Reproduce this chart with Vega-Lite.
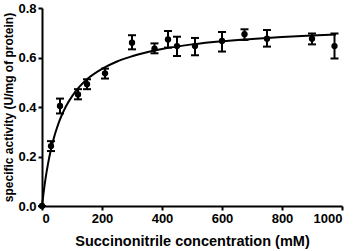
{
  "$schema": "https://vega.github.io/schema/vega-lite/v6.json",
  "autosize": "none",
  "width": 300,
  "height": 198,
  "padding": {"left": 42, "top": 8, "right": 16, "bottom": 45},
  "background": "white",
  "config": {
    "view": {"stroke": null},
    "axis": {
      "grid": false,
      "domainColor": "black",
      "domainWidth": 2,
      "tickColor": "black",
      "tickWidth": 2,
      "tickSize": 4,
      "labelFont": "Liberation Sans",
      "labelFontWeight": "bold",
      "labelColor": "black",
      "titleFont": "Liberation Sans",
      "titleFontWeight": "bold",
      "titleColor": "black"
    }
  },
  "datasets": {
    "obs": [
      {"conc": 0, "act": 0, "lo": 0, "hi": 0},
      {"conc": 30, "act": 0.242, "lo": 0.222, "hi": 0.262},
      {"conc": 60, "act": 0.404, "lo": 0.374, "hi": 0.434},
      {"conc": 120, "act": 0.451, "lo": 0.431, "hi": 0.472},
      {"conc": 150, "act": 0.492, "lo": 0.472, "hi": 0.512},
      {"conc": 210, "act": 0.536, "lo": 0.515, "hi": 0.555},
      {"conc": 300, "act": 0.66, "lo": 0.633, "hi": 0.69},
      {"conc": 375, "act": 0.636, "lo": 0.617, "hi": 0.657},
      {"conc": 420, "act": 0.673, "lo": 0.64, "hi": 0.707},
      {"conc": 450, "act": 0.646, "lo": 0.606, "hi": 0.684},
      {"conc": 510, "act": 0.646, "lo": 0.609, "hi": 0.679},
      {"conc": 600, "act": 0.667, "lo": 0.624, "hi": 0.703},
      {"conc": 675, "act": 0.694, "lo": 0.671, "hi": 0.714},
      {"conc": 750, "act": 0.676, "lo": 0.644, "hi": 0.711},
      {"conc": 900, "act": 0.676, "lo": 0.653, "hi": 0.697},
      {"conc": 975, "act": 0.646, "lo": 0.596, "hi": 0.697}
    ],
    "fit": [
      {"conc": 0, "act": 0},
      {"conc": 5, "act": 0.051},
      {"conc": 10, "act": 0.096},
      {"conc": 20, "act": 0.17},
      {"conc": 30, "act": 0.229},
      {"conc": 40, "act": 0.277},
      {"conc": 50, "act": 0.316},
      {"conc": 60, "act": 0.35},
      {"conc": 80, "act": 0.403},
      {"conc": 100, "act": 0.443},
      {"conc": 125, "act": 0.482},
      {"conc": 150, "act": 0.512},
      {"conc": 200, "act": 0.554},
      {"conc": 250, "act": 0.584},
      {"conc": 300, "act": 0.605},
      {"conc": 400, "act": 0.634},
      {"conc": 500, "act": 0.653},
      {"conc": 600, "act": 0.666},
      {"conc": 700, "act": 0.675},
      {"conc": 800, "act": 0.683},
      {"conc": 900, "act": 0.689},
      {"conc": 980, "act": 0.693}
    ]
  },
  "layer": [
    {
      "data": {"name": "fit"},
      "mark": {"type": "line", "color": "black", "strokeWidth": 2, "interpolate": "monotone"},
      "encoding": {
        "x": {
          "field": "conc", "type": "quantitative",
          "scale": {"domain": [0, 1000], "nice": false},
          "axis": {
            "title": "Succinonitrile concentration (mM)",
            "values": [0, 100, 200, 300, 400, 500, 600, 700, 800, 900, 1000],
            "format": "d",
            "labelExpr": "datum.value % 200 == 0 ? datum.label : ''",
            "labelFontSize": 13,
            "titleFontSize": 14.5,
            "labelPadding": 2,
            "titlePadding": 9,
            "titleColor": "black"
          }
        },
        "y": {
          "field": "act", "type": "quantitative",
          "scale": {"domain": [0, 0.8], "nice": false},
          "axis": {
            "title": "specific activity (U/mg of protein)",
            "values": [0, 0.2, 0.4, 0.6, 0.8],
            "format": ".1f",
            "labelFontSize": 13,
            "titleFontSize": 12,
            "labelPadding": 2,
            "titleColor": "black",
            "titleAngle": -90,
            "titleAlign": "center",
            "titleBaseline": "middle",
            "titleX": -34
          }
        }
      }
    },
    {
      "data": {"name": "obs"},
      "mark": {"type": "rule", "color": "black", "strokeWidth": 2},
      "encoding": {
        "x": {"field": "conc", "type": "quantitative"},
        "y": {"field": "lo", "type": "quantitative"},
        "y2": {"field": "hi"}
      }
    },
    {
      "data": {"name": "obs"},
      "mark": {"type": "tick", "color": "black", "orient": "horizontal", "size": 8, "thickness": 2, "opacity": 1},
      "encoding": {
        "x": {"field": "conc", "type": "quantitative"},
        "y": {"field": "lo", "type": "quantitative"}
      }
    },
    {
      "data": {"name": "obs"},
      "mark": {"type": "tick", "color": "black", "orient": "horizontal", "size": 8, "thickness": 2, "opacity": 1},
      "encoding": {
        "x": {"field": "conc", "type": "quantitative"},
        "y": {"field": "hi", "type": "quantitative"}
      }
    },
    {
      "data": {"name": "obs"},
      "mark": {"type": "circle", "color": "black", "size": 40, "opacity": 1},
      "encoding": {
        "x": {"field": "conc", "type": "quantitative"},
        "y": {"field": "act", "type": "quantitative"}
      }
    }
  ]
}
